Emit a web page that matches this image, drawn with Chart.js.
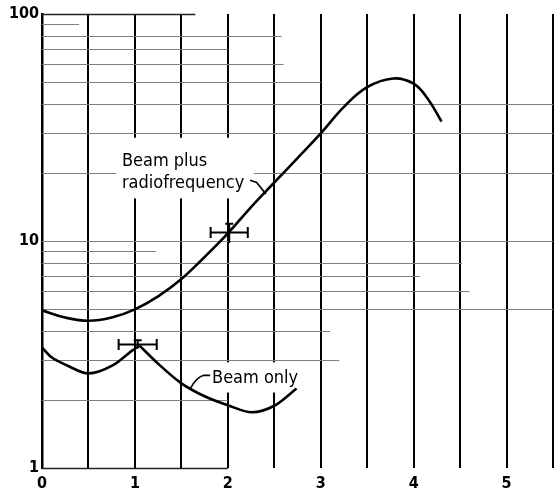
<!DOCTYPE html>
<html>
<head>
<meta charset="utf-8">
<script src="https://cdn.jsdelivr.net/npm/chart.js@4/dist/chart.umd.min.js"></script>
<style>
  html, body { margin: 0; padding: 0; background: #fff; }
</style>
</head>
<body>
<canvas id="chart" width="559" height="503"></canvas>
<script>
// beam plus radiofrequency
const rfX = [0, 0.25, 0.5, 0.75, 1, 1.25, 1.5, 1.75, 2, 2.25, 2.5, 2.75, 3, 3.25, 3.5, 3.78, 4, 4.15, 4.3];
const rfY = [4.95, 4.6, 4.45, 4.6, 5.0, 5.7, 6.8, 8.5, 10.8, 14.1, 18.1, 23.2, 29.8, 39.0, 47.6, 52, 49.3, 42.4, 33.6];

// beam only: up to the peak, then down from it
const beamRiseX = [0, 0.1, 0.27, 0.5, 0.76, 0.97, 1.05];
const beamRiseY = [3.4, 3.08, 2.83, 2.61, 2.83, 3.29, 3.46];
const beamFallX = [1.05, 1.25, 1.5, 1.75, 2, 2.26, 2.5, 2.74];
const beamFallY = [3.46, 2.88, 2.36, 2.07, 1.89, 1.76, 1.88, 2.24];

// error bars
const errX = [2.015, 1.03];
const errY = [10.9, 3.5];
const errXHalf = [0.2, 0.205];
const errYLow = [9.8, 3.36];
const errYHigh = [11.9, 3.65];

const xLabels = [0, 1, 2, 3, 4, 5];
const yLabels = [1, 10, 100];

// the printed paper: value of each horizontal rule and where it stops on the right
const ruleValues = [100, 90, 80, 70, 60, 50, 40, 30, 20, 10, 9, 8, 7, 6, 5, 4, 3, 2, 1];
const ruleEnds = [1.65, 0.4, 2.58, 2.0, 2.6, 3.0, 5.5, 5.5, 5.5, 5.5, 1.23, 4.52, 4.07, 4.6, 5.5, 3.1, 3.2, 2.0, 2.0];

const FONT = '"DejaVu Sans Condensed", "DejaVu Sans", sans-serif';

const pts = (xs, ys) => xs.map((x, i) => ({ x: x, y: ys[i] }));
const curve = (xs, ys, smooth) => ({
    data: pts(xs, ys),
    borderColor: "#000",
    borderWidth: 2.6,
    pointRadius: 0,
    fill: false,
    tension: 0.4,
    cubicInterpolationMode: smooth ? "default" : "monotone",
});

function boxText(ctx, x, y, lines, box) {
    // white patch behind a label, then the text
    ctx.fillStyle = "#fff";
    ctx.fillRect(x.getPixelForValue(box[0]), y.getPixelForValue(box[3]),
        x.getPixelForValue(box[1]) - x.getPixelForValue(box[0]),
        y.getPixelForValue(box[2]) - y.getPixelForValue(box[3]));
    ctx.fillStyle = "#000";
    ctx.font = "18px " + FONT;
    ctx.textAlign = "left";
    ctx.textBaseline = "alphabetic";
    lines.forEach(l => ctx.fillText(l.text, x.getPixelForValue(l.x), y.getPixelForValue(l.y)));
}

const paper = {
    id: "paper",
    beforeDatasetsDraw(chart) {
        const { ctx, scales: { x, y } } = chart;
        ctx.save();
        ruleValues.forEach((v, i) => {
            const py = Math.round(y.getPixelForValue(v)) + 0.5;
            const dark = v === 1 || v === 100;
            ctx.strokeStyle = dark ? "#222" : "#808080";
            ctx.lineWidth = dark ? 1.6 : 1;
            ctx.beginPath();
            ctx.moveTo(x.getPixelForValue(0), py);
            ctx.lineTo(x.getPixelForValue(ruleEnds[i]), py);
            ctx.stroke();
        });

        boxText(ctx, x, y, [
            { text: "Beam plus", x: 0.86, y: 21.3 },
            { text: "radiofrequency", x: 0.86, y: 17.2 },
        ], [0.8, 2.28, 15.4, 28.5]);
        boxText(ctx, x, y, [
            { text: "Beam only", x: 1.83, y: 2.36 },
        ], [1.74, 2.7, 2.15, 2.92]);

        // leaders from the labels to the curves
        ctx.strokeStyle = "#000";
        ctx.lineWidth = 1.6;
        ctx.beginPath();
        ctx.moveTo(x.getPixelForValue(2.24), y.getPixelForValue(18.5));
        ctx.lineTo(x.getPixelForValue(2.31), y.getPixelForValue(18.1));
        ctx.lineTo(x.getPixelForValue(2.41), y.getPixelForValue(16.1));
        ctx.stroke();
        ctx.beginPath();
        ctx.moveTo(x.getPixelForValue(1.81), y.getPixelForValue(2.56));
        ctx.lineTo(x.getPixelForValue(1.74), y.getPixelForValue(2.56));
        ctx.quadraticCurveTo(x.getPixelForValue(1.66), y.getPixelForValue(2.5),
            x.getPixelForValue(1.6), y.getPixelForValue(2.25));
        ctx.stroke();
        ctx.restore();
    },
    afterDatasetsDraw(chart) {
        const { ctx, scales: { x, y } } = chart;
        ctx.save();
        ctx.strokeStyle = "#000";
        ctx.lineWidth = 2;
        errX.forEach((cx, i) => {
            const x0 = x.getPixelForValue(cx - errXHalf[i]);
            const x1 = x.getPixelForValue(cx + errXHalf[i]);
            const xc = x.getPixelForValue(cx);
            const yc = y.getPixelForValue(errY[i]);
            const yt = y.getPixelForValue(errYHigh[i]);
            const yb = y.getPixelForValue(errYLow[i]);
            ctx.beginPath();
            ctx.moveTo(x0, yc); ctx.lineTo(x1, yc);
            ctx.moveTo(x0, yc - 5.5); ctx.lineTo(x0, yc + 5.5);
            ctx.moveTo(x1, yc - 5.5); ctx.lineTo(x1, yc + 5.5);
            ctx.moveTo(xc, yt); ctx.lineTo(xc, yb);
            ctx.moveTo(xc - 4, yt); ctx.lineTo(xc + 4, yt);
            ctx.stroke();
        });
        ctx.restore();
    },
};

new Chart(document.getElementById("chart"), {
    type: "line",
    data: {
        datasets: [
            curve(rfX, rfY, true),
            curve(beamRiseX, beamRiseY, false),
            curve(beamFallX, beamFallY, false),
        ],
    },
    options: {
        responsive: false,
        animation: false,
        devicePixelRatio: 1,
        layout: { padding: { top: 14, right: 3, left: 0, bottom: 0 } },
        plugins: { legend: { display: false }, tooltip: { enabled: false } },
        scales: {
            x: {
                type: "linear",
                min: 0,
                max: 5.5,
                afterFit: s => { s.height = 35; },
                border: { display: false },
                grid: { color: "#000", lineWidth: 2, drawTicks: false },
                ticks: {
                    stepSize: 0.5,
                    autoSkip: false,
                    maxRotation: 0,
                    padding: 6,
                    color: "#000",
                    font: { family: FONT, size: 16, weight: "bold" },
                    callback: v => (xLabels.includes(v) ? String(v) : ""),
                },
            },
            y: {
                type: "logarithmic",
                min: 1,
                max: 100,
                afterFit: s => { s.width = 42; },
                border: { display: true, color: "#000", width: 2.5 },
                grid: { display: false, drawTicks: false },
                ticks: {
                    autoSkip: false,
                    padding: 3,
                    color: "#000",
                    font: { family: FONT, size: 16, weight: "bold" },
                    callback: v => (yLabels.includes(v) ? String(v) : ""),
                },
            },
        },
    },
    plugins: [paper],
});
</script>
</body>
</html>
